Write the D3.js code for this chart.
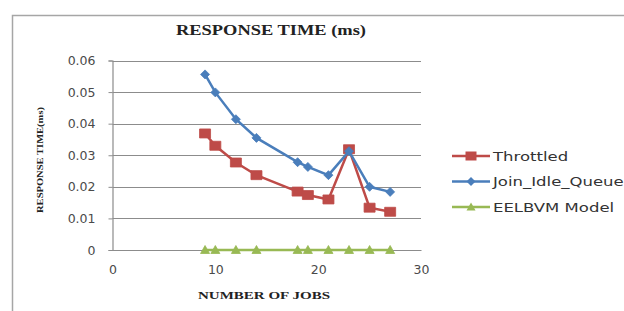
<!DOCTYPE html>
<html><head><meta charset="utf-8">
<script src="https://cdn.jsdelivr.net/npm/d3@7/dist/d3.min.js"></script>
<style>body{margin:0;background:#fff}svg{display:block}</style>
</head><body><div id="chart"></div>
<script>
const jobs = [9, 10, 12, 14, 18, 19, 21, 23, 25, 27];
const throttled = [0.0369, 0.0330, 0.0277, 0.0237, 0.0185, 0.0174, 0.0160, 0.0319, 0.0134, 0.0121];
const joinIdleQueue = [0.0556, 0.0499, 0.0414, 0.0355, 0.0278, 0.0263, 0.0237, 0.0313, 0.0200, 0.0184];
const eelbvm = [0, 0, 0, 0, 0, 0, 0, 0, 0, 0];
const xTicks = [0, 10, 20, 30];
const yTicks = [0, 0.01, 0.02, 0.03, 0.04, 0.05, 0.06];
const seriesNames = ["Throttled", "Join_Idle_Queue", "EELBVM Model"];
const colors = ["#BE4B48", "#4A7EBB", "#98B954"];

const W = 624, H = 311;
const svg = d3.select("#chart").append("svg").attr("width", W).attr("height", H);

// outer chart border
svg.append("rect").attr("x", 12.5).attr("y", 15.5).attr("width", 640).attr("height", 320)
  .attr("fill", "#fff").attr("stroke", "#a6a6a6").attr("stroke-width", 1.5);

const x = d3.scaleLinear().domain([0, 30]).range([112.5, 421]);
const y = d3.scaleLinear().domain([0, 0.06]).range([250, 60.5]);

// gridlines
svg.append("g").selectAll("line").data(yTicks.filter(d => d > 0)).join("line")
  .attr("x1", x(0)).attr("x2", x(30)).attr("y1", d => Math.round(y(d)) + 0.5).attr("y2", d => Math.round(y(d)) + 0.5)
  .attr("stroke", "#8c8c8c").attr("stroke-width", 1);

// axes
const yAxis = d3.axisLeft(y).tickValues(yTicks).tickSize(4).tickPadding(13)
  .tickFormat(d => d === 0 ? "0" : d3.format(".2f")(d));
const gy = svg.append("g").attr("transform", `translate(${x(0)},0)`).call(yAxis);
const xAxis = d3.axisBottom(x).tickValues(xTicks).tickSize(0).tickPadding(15);
const gx = svg.append("g").attr("transform", `translate(0,${y(0)})`).call(xAxis);
[gy, gx].forEach(g => {
  g.select(".domain").attr("stroke", "#8c8c8c").attr("stroke-width", 1.2);
  g.selectAll(".tick line").attr("stroke", "#8c8c8c");
  g.selectAll("text").attr("font-family", "DejaVu Sans, sans-serif").attr("font-size", 12.5).attr("fill", "#4a4a4a");
});

// titles
svg.append("text").attr("x", 271).attr("y", 35).attr("text-anchor", "middle")
  .attr("font-family", "Liberation Serif, serif").attr("font-weight", "bold").attr("font-size", 14.5)
  .attr("textLength", 190).attr("lengthAdjust", "spacingAndGlyphs")
  .attr("fill", "#222").text("RESPONSE TIME  (ms)");
svg.append("text").attr("x", 264).attr("y", 299).attr("text-anchor", "middle")
  .attr("font-family", "Liberation Serif, serif").attr("font-weight", "bold").attr("font-size", 10.5)
  .attr("textLength", 132).attr("lengthAdjust", "spacingAndGlyphs")
  .attr("fill", "#222").text("NUMBER OF JOBS");
svg.append("text").attr("transform", "translate(43,160) rotate(-90)").attr("text-anchor", "middle")
  .attr("font-family", "Liberation Serif, serif").attr("font-weight", "bold").attr("font-size", 9)
  .attr("textLength", 106).attr("lengthAdjust", "spacingAndGlyphs")
  .attr("fill", "#222").text("RESPONSE TIME(ms)");

// marker shapes (centered at 0,0)
const markerPaths = [
  "M-5.5,-4.5H5.5V4.5H-5.5Z",
  "M0,-4.5L4.5,0L0,4.5L-4.5,0Z",
  "M0,-4.5L4.5,3.5H-4.5Z"
];

const allSeries = [throttled, joinIdleQueue, eelbvm];
const line = d3.line().x(d => x(d[0])).y(d => y(d[1]));

allSeries.forEach((vals, i) => {
  const pts = jobs.map((j, k) => [j, vals[k]]);
  const g = svg.append("g");
  g.append("path").datum(pts).attr("d", line).attr("fill", "none")
    .attr("stroke", colors[i]).attr("stroke-width", 2.5);
  g.selectAll("path.m").data(pts).join("path").attr("class", "m")
    .attr("transform", d => `translate(${x(d[0])},${y(d[1])})`)
    .attr("d", markerPaths[i])
    .attr("fill", colors[i]).attr("stroke", colors[i]).attr("stroke-width", 0.8);
});

// legend
const legendY = [156, 181.5, 207];
seriesNames.forEach((name, i) => {
  const g = svg.append("g").attr("transform", `translate(452,${legendY[i]})`);
  g.append("line").attr("x1", 0).attr("x2", 38).attr("stroke", colors[i]).attr("stroke-width", 2.5);
  g.append("path").attr("transform", "translate(19,0)")
    .attr("d", markerPaths[i]).attr("fill", colors[i]);
  g.append("text").attr("x", 41).attr("y", 4.5).attr("font-family", "DejaVu Sans, sans-serif")
    .attr("font-size", 13).attr("fill", "#333")
    .attr("transform", "translate(41,0) scale(1.27,1) translate(-41,0)").text(name);
});
</script></body></html>
